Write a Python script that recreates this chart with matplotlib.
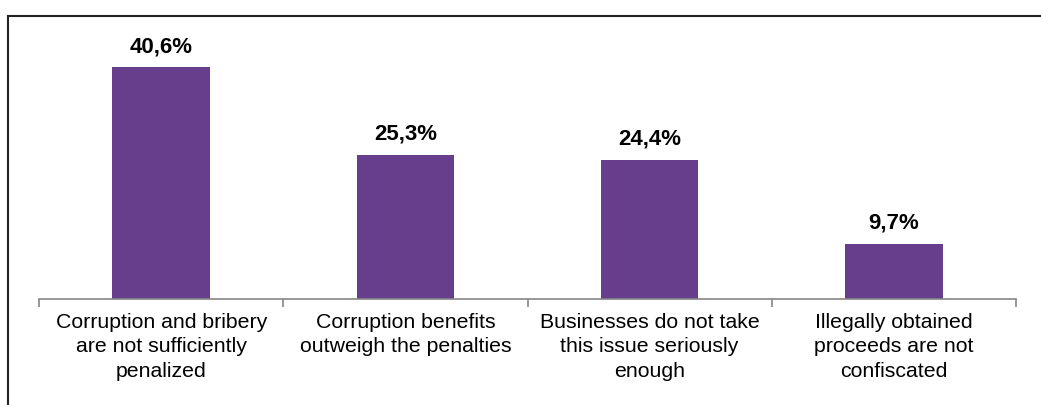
import matplotlib.pyplot as plt
from matplotlib.lines import Line2D

categories = [
    "Corruption and bribery\nare not sufficiently\npenalized",
    "Corruption benefits\noutweigh the penalties",
    "Businesses do not take\nthis issue seriously\nenough",
    "Illegally obtained\nproceeds are not\nconfiscated",
]
values = [40.6, 25.3, 24.4, 9.7]
value_labels = ["40,6%", "25,3%", "24,4%", "9,7%"]

plt.rcParams['font.family'] = ['Liberation Sans', 'DejaVu Sans']

W, H = 1041, 405
fig = plt.figure(figsize=(W / 100, H / 100), dpi=100)
ax = fig.add_axes([39 / W, 1 - 299 / H, (1016 - 39) / W, (299 - 30) / H])

x = list(range(len(values)))
ax.bar(x, values, width=0.4, color="#663E8B", zorder=2)
for xi, v, lab in zip(x, values, value_labels):
    ax.annotate(lab, (xi, v), xytext=(0, 7), textcoords="offset points",
                ha="center", va="bottom", fontsize=16, fontweight="bold")

ax.set_xlim(-0.5, len(values) - 0.5)
ax.set_ylim(0, 269 / 5.71)
ax.set_yticks([])
for s in ["top", "right", "left"]:
    ax.spines[s].set_visible(False)
ax.spines["bottom"].set_color("#868686")
ax.spines["bottom"].set_linewidth(1.2)

# category boundaries as ticks, labels centred under the bars
ax.set_xticks([i - 0.5 for i in range(len(values) + 1)])
ax.set_xticklabels([])
ax.tick_params(axis="x", length=6, color="#868686", width=1.2)
for xi, cat in zip(x, categories):
    ax.annotate(cat, (xi, 0), xycoords=ax.get_xaxis_transform(), xytext=(0, -10),
                textcoords="offset points", ha="center", va="top",
                fontsize=15.3, linespacing=1.36)

# outer frame (top and left edges only)
fig.add_artist(Line2D([8 / W, 1], [1 - 16 / H, 1 - 16 / H], color="#222222", lw=1.5))
fig.add_artist(Line2D([8 / W, 8 / W], [0, 1 - 16 / H], color="#222222", lw=1.5))

fig.savefig("out.png", dpi=100)
